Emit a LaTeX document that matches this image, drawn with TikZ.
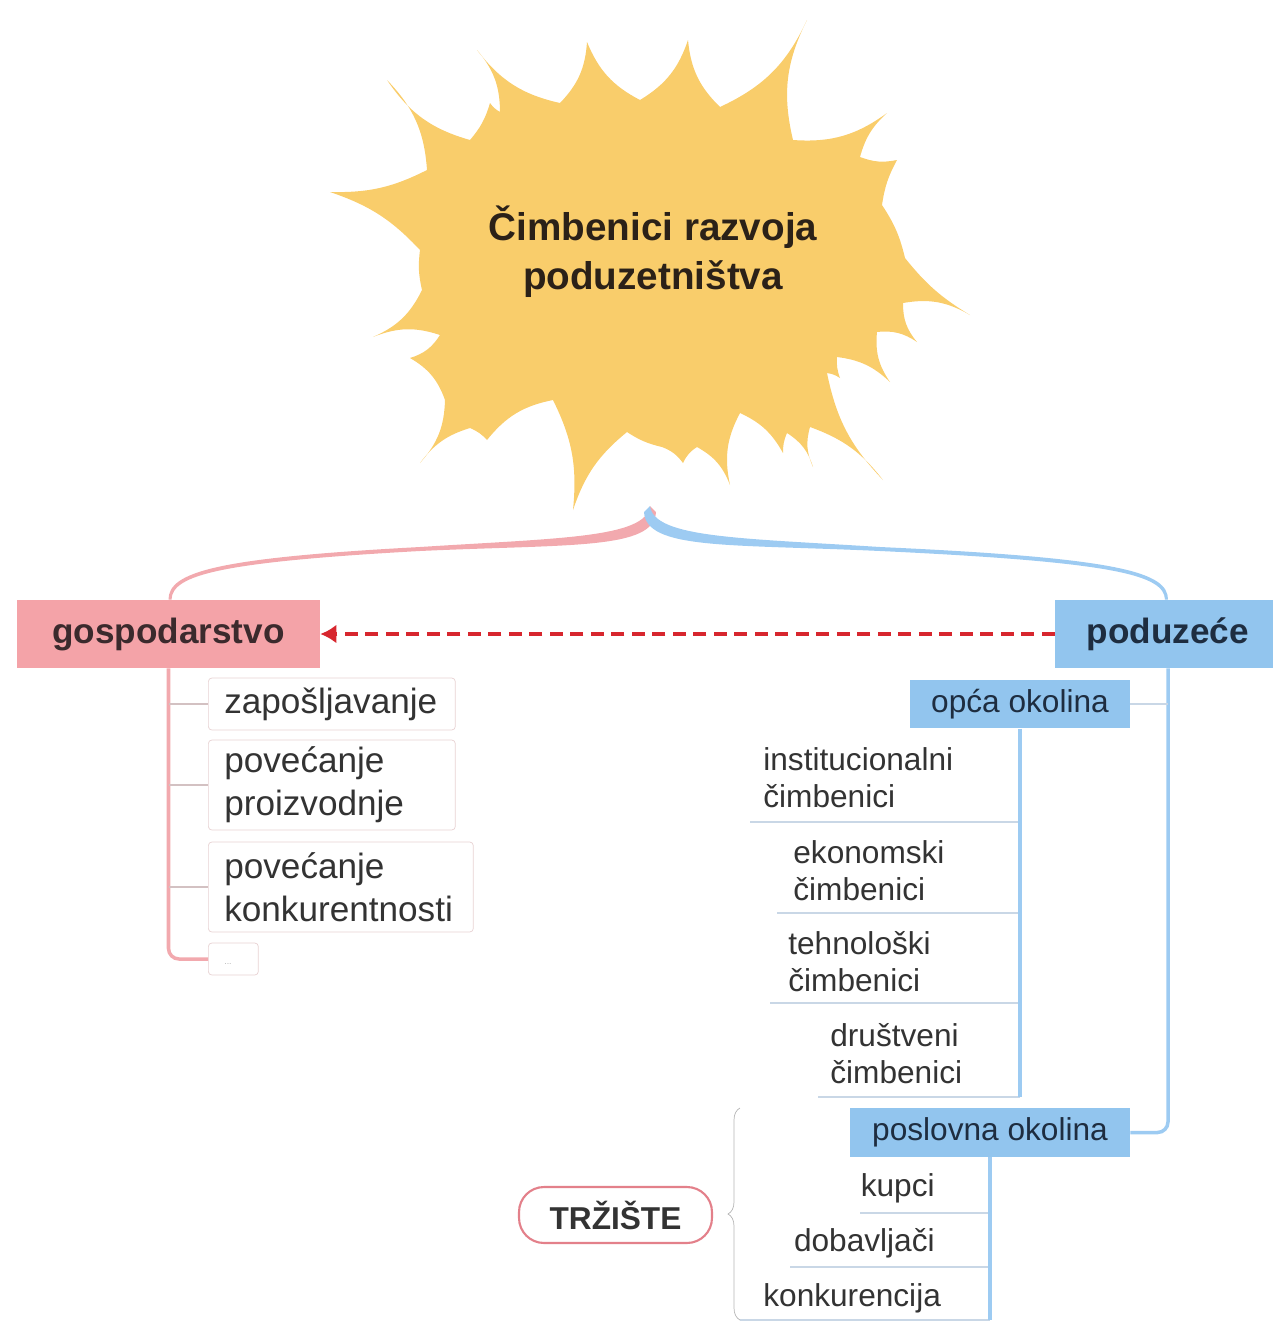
\documentclass[tikz,border=0pt]{standalone}
\usepackage{fontspec}
\setmainfont{Liberation Sans}
\usetikzlibrary{arrows.meta,decorations.pathreplacing}
\definecolor{BurstYellow}{HTML}{F9CD6B}
\definecolor{GospPink}{HTML}{F4A3A8}
\definecolor{PodBlue}{HTML}{92C5EE}
\definecolor{LinePink}{HTML}{F2A9AE}
\definecolor{LineBlue}{HTML}{9DCBF2}
\definecolor{LeafGray}{HTML}{E8D2D3}
\definecolor{ULineGray}{HTML}{C9D7E6}
\definecolor{ArrowRed}{HTML}{D7262E}
\definecolor{MarketRed}{HTML}{E3808A}
\definecolor{BraceGray}{HTML}{B4B4B4}
\definecolor{TitleText}{HTML}{2B2118}
\definecolor{GospText}{HTML}{3B2A2D}
\definecolor{PodText}{HTML}{1E2D40}
\definecolor{TxtGray}{HTML}{333333}
\newcommand\fTitle{\fontsize{22}{28}\selectfont\bfseries}
\newcommand\fHead{\fontsize{20}{24}\selectfont\bfseries}
\newcommand\fLeft{\fontsize{20}{24.5}\selectfont}
\newcommand\fRight{\fontsize{18}{21}\selectfont}
\newcommand\fMarket{\fontsize{18}{22}\selectfont\bfseries}

\begin{document}
\begin{tikzpicture}[x=0.02cm,y=-0.02cm,
  headG/.style={fill=GospPink,text=GospText,font=\fHead,minimum height=1.36cm,inner sep=0pt},
  headP/.style={fill=PodBlue,text=PodText,font=\fHead,minimum height=1.36cm,inner sep=0pt},
  subP/.style={fill=PodBlue,text=PodText,font=\fRight,minimum height=0.97cm,inner sep=0pt},
  leaf/.style={draw=LeafGray,fill=white,rounded corners=2pt,anchor=west,align=left,
    inner xsep=0.32cm,inner ysep=0pt,font=\fLeft,text=TxtGray},
  item/.style={font=\fRight,align=left,text=TxtGray,inner sep=0pt},
  uline/.style={draw=ULineGray,line width=0.8pt},
  ptrunk/.style={draw=LinePink,line width=2pt},
  btrunk/.style={draw=LineBlue,line width=2pt},
  lbranch/.style={draw=LeafGray!80!gray,line width=0.8pt},
  redarr/.style={draw=ArrowRed,line width=2.2pt,dash pattern=on 0.26cm off 0.15cm,
    -{Latex[length=0.32cm,width=0.38cm]}}]
\useasboundingbox (0,0) rectangle (1273,1323);

% burst
\fill[BurstYellow] (807,20)
  \foreach \x/\y/\b in {793/140/20,887/113/20,860/157/16,897/160/16,882/205/10,905/258/-10,
    970/315/10,903/303/20,917/342/20,877/332/20,890/382/20,837/357/18,840/378/12,827/373/12,
    883/480/16,810/427/16,813/467/20,787/433/20,783/453/12,740/413/18,730/485/20,697/447/20,
    683/463/16,662/447/16,627/432/-10,573/510/16,553/400/16,487/440/20,470/428/12,420/463/18,
    445/400/20,410/358/20,440/335/20,373/337/20,422/290/20,420/250/-10,330/192/14,427/170/14,
    387/80/20,470/140/20,490/103/12,500/112/12,477/50/20,560/103/20,587/42/20,640/100/20,
    688/40/20,720/107/20,807/20/20}
  { to[bend right=\b] (\x,\y) } -- cycle;
\node[font=\fTitle,align=center,text=TitleText] (title) at (653,252)
  {Čimbenici razvoja\\poduzetništva};
\coordinate (stem) at (650,506);

\node[headG,minimum width=6.06cm] (gosp) at (168.5,634) {gospodarstvo};
\node[headP,minimum width=4.52cm] (pod) at (1168,634) {poduzeće};

% branches out of the burst
\fill[LinePink] (stem) .. controls (646,538) and (560,538) .. (420,547)
  .. controls (215,558) and (168.5,572) .. (gosp.north) -- ++(3,0)
  .. controls (172,575) and (220,562) .. (420,551)
  .. controls (570,544) and (654,550) .. (656,512) -- cycle;
\fill[LineBlue] (stem) .. controls (654,538) and (740,538) .. (880,547)
  .. controls (1120,558) and (1168,572) .. (pod.north) -- ++(-3,0)
  .. controls (1164,575) and (1115,562) .. (880,551)
  .. controls (730,544) and (646,550) .. (644,512) -- cycle;

\draw[redarr] (pod.west) -- (gosp.east);

% gospodarstvo
\node[leaf,minimum width=4.94cm,minimum height=1.04cm,text width=4.3cm] (zap) at (208,704) {zapošljavanje};
\node[leaf,minimum width=4.94cm,minimum height=1.8cm,text width=4.3cm] (proi) at (208,785) {povećanje\\proizvodnje};
\node[leaf,minimum width=5.3cm,minimum height=1.8cm,text width=4.66cm] (konk) at (208,887) {povećanje\\konkurentnosti};
\node[leaf,minimum width=1cm,minimum height=0.64cm,text width=0.36cm,font=\tiny,text=BraceGray] (dots) at (208,959) {\raisebox{-6pt}{...}};
\draw[ptrunk,rounded corners=6pt] (gosp.south) |- (dots.west);
\foreach \n in {zap,proi,konk} \draw[lbranch] (gosp.south |- \n.west) -- (\n.west);

% poduzece
\node[subP,minimum width=4.4cm] (oc) at (1020,704) {opća okolina};
\node[subP,minimum width=5.6cm] (po) at (990,1132.5) {poslovna okolina};
\draw[btrunk,rounded corners=6pt] (pod.south) |- (po.east);
\draw[lbranch,draw=ULineGray] (oc.east) -- (oc.east -| pod.south);

\node[item,anchor=west] (inst) at (763,778) {institucionalni\\čimbenici};
\node[item,anchor=west] (ekon) at (793,871) {ekonomski\\čimbenici};
\node[item,anchor=west] (tehn) at (788,962) {tehnološki\\čimbenici};
\node[item,anchor=west] (drus) at (830,1054) {društveni\\čimbenici};
\coordinate (u1) at (750,822);
\coordinate (u2) at (777,913);
\coordinate (u3) at (770,1003);
\coordinate (u4) at (818,1097);
\foreach \c in {u1,u2,u3,u4} \draw[uline] (\c) -- (\c -| oc.south);
\draw[btrunk] (oc.south) -- (oc.south |- u4);

\node[item,anchor=east] (kup) at (935,1188) {kupci};
\node[item,anchor=east] (dob) at (935,1243) {dobavljači};
\node[item,anchor=west] (konc) at (763,1298) {konkurencija};
\coordinate (k1) at (860,1213);
\coordinate (k2) at (790,1267);
\coordinate (k3) at (740,1320);
\foreach \c in {k1,k2,k3} \draw[uline] (\c) -- (\c -| po.south);
\draw[btrunk] (po.south) -- (po.south |- k3);

% trziste
\coordinate (brB) at (740,1320);
\coordinate (brT) at (740,1108);
\draw[BraceGray,decorate,decoration={brace,amplitude=0.24cm}] (brB) -- (brT);
\node[draw=MarketRed,line width=1.2pt,fill=white,rounded corners=0.5cm,minimum width=3.86cm,
  minimum height=1.12cm,font=\fMarket,text=TxtGray] (trz) at (615.5,1215) {TRŽIŠTE};
\end{tikzpicture}
\end{document}
